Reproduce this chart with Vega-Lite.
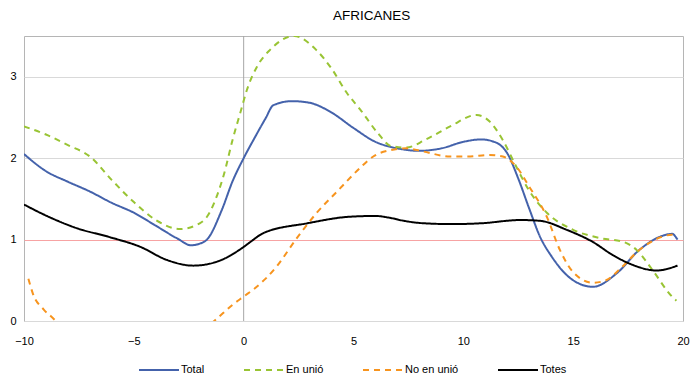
{
  "$schema": "https://vega.github.io/schema/vega-lite/v6.json",
  "width": 659,
  "height": 285,
  "autosize": "none",
  "padding": {"left": 24, "top": 36, "right": 10, "bottom": 58},
  "background": "white",
  "config": {
    "view": {"stroke": "#b5b5b5", "strokeWidth": 1},
    "font": "Liberation Sans",
    "axis": {"labelFont": "Liberation Sans", "labelFontSize": 11, "labelColor": "#000", "ticks": false, "domain": false, "zindex": 0}
  },
  "title": {"text": "AFRICANES", "fontSize": 13.5, "fontWeight": "normal", "font": "Liberation Sans", "color": "#000", "anchor": "middle", "dx": 18, "offset": 2, "baseline": "alphabetic"},
  "datasets": {
    "series": [
      {"s": "Total", "x": -10, "y": 2.05}, {"s": "Total", "x": -9, "y": 1.84}, {"s": "Total", "x": -8, "y": 1.71}, {"s": "Total", "x": -7, "y": 1.59}, {"s": "Total", "x": -6, "y": 1.45}, {"s": "Total", "x": -5, "y": 1.33}, {"s": "Total", "x": -4, "y": 1.17}, {"s": "Total", "x": -3, "y": 1.01}, {"s": "Total", "x": -2.4, "y": 0.93}, {"s": "Total", "x": -2, "y": 0.95}, {"s": "Total", "x": -1.67, "y": 1.0}, {"s": "Total", "x": -1, "y": 1.36}, {"s": "Total", "x": -0.5, "y": 1.72}, {"s": "Total", "x": 0, "y": 2.0}, {"s": "Total", "x": 0.5, "y": 2.25}, {"s": "Total", "x": 1, "y": 2.49}, {"s": "Total", "x": 1.35, "y": 2.65}, {"s": "Total", "x": 2.2, "y": 2.70}, {"s": "Total", "x": 3, "y": 2.68}, {"s": "Total", "x": 4, "y": 2.56}, {"s": "Total", "x": 5, "y": 2.37}, {"s": "Total", "x": 6, "y": 2.2}, {"s": "Total", "x": 7, "y": 2.12}, {"s": "Total", "x": 8, "y": 2.09}, {"s": "Total", "x": 9, "y": 2.12}, {"s": "Total", "x": 10, "y": 2.2}, {"s": "Total", "x": 10.8, "y": 2.23}, {"s": "Total", "x": 11.5, "y": 2.19}, {"s": "Total", "x": 12, "y": 2.06}, {"s": "Total", "x": 12.5, "y": 1.75}, {"s": "Total", "x": 13, "y": 1.38}, {"s": "Total", "x": 13.5, "y": 1.03}, {"s": "Total", "x": 14, "y": 0.8}, {"s": "Total", "x": 15, "y": 0.5}, {"s": "Total", "x": 15.9, "y": 0.42}, {"s": "Total", "x": 17, "y": 0.59}, {"s": "Total", "x": 18, "y": 0.87}, {"s": "Total", "x": 19, "y": 1.04}, {"s": "Total", "x": 19.5, "y": 1.07}, {"s": "Total", "x": 19.75, "y": 1.0},
      {"s": "En unió", "x": -10, "y": 2.39}, {"s": "En unió", "x": -9, "y": 2.29}, {"s": "En unió", "x": -8, "y": 2.16}, {"s": "En unió", "x": -7, "y": 2.02}, {"s": "En unió", "x": -6, "y": 1.73}, {"s": "En unió", "x": -5, "y": 1.46}, {"s": "En unió", "x": -4, "y": 1.24}, {"s": "En unió", "x": -2.9, "y": 1.13}, {"s": "En unió", "x": -2, "y": 1.2}, {"s": "En unió", "x": -1.67, "y": 1.28}, {"s": "En unió", "x": -1.2, "y": 1.55}, {"s": "En unió", "x": -0.9, "y": 1.8}, {"s": "En unió", "x": -0.5, "y": 2.23}, {"s": "En unió", "x": -0.15, "y": 2.56}, {"s": "En unió", "x": 0.15, "y": 2.84}, {"s": "En unió", "x": 0.6, "y": 3.12}, {"s": "En unió", "x": 1.2, "y": 3.33}, {"s": "En unió", "x": 2.3, "y": 3.5}, {"s": "En unió", "x": 3.3, "y": 3.33}, {"s": "En unió", "x": 4, "y": 3.1}, {"s": "En unió", "x": 4.7, "y": 2.8}, {"s": "En unió", "x": 5.3, "y": 2.6}, {"s": "En unió", "x": 6.1, "y": 2.31}, {"s": "En unió", "x": 6.7, "y": 2.15}, {"s": "En unió", "x": 7.4, "y": 2.13}, {"s": "En unió", "x": 8.3, "y": 2.23}, {"s": "En unió", "x": 9.4, "y": 2.39}, {"s": "En unió", "x": 10.6, "y": 2.53}, {"s": "En unió", "x": 11.2, "y": 2.45}, {"s": "En unió", "x": 11.8, "y": 2.22}, {"s": "En unió", "x": 12.4, "y": 1.9}, {"s": "En unió", "x": 13, "y": 1.6}, {"s": "En unió", "x": 13.8, "y": 1.33}, {"s": "En unió", "x": 15, "y": 1.12}, {"s": "En unió", "x": 16.2, "y": 1.02}, {"s": "En unió", "x": 17.3, "y": 0.97}, {"s": "En unió", "x": 17.9, "y": 0.87}, {"s": "En unió", "x": 18.6, "y": 0.63}, {"s": "En unió", "x": 19.5, "y": 0.3}, {"s": "En unió", "x": 19.7, "y": 0.25},
      {"s": "No en unió", "x": -9.8, "y": 0.52}, {"s": "No en unió", "x": -9.6, "y": 0.34}, {"s": "No en unió", "x": -9.1, "y": 0.14}, {"s": "No en unió", "x": -8.7, "y": 0.04}, {"s": "No en unió", "x": -8, "y": -0.15}, {"s": "No en unió", "x": -7, "y": -0.35}, {"s": "No en unió", "x": -5, "y": -0.5}, {"s": "No en unió", "x": -3, "y": -0.35}, {"s": "No en unió", "x": -2, "y": -0.15}, {"s": "No en unió", "x": -1.17, "y": 0.04}, {"s": "No en unió", "x": -0.5, "y": 0.2}, {"s": "No en unió", "x": 0, "y": 0.3}, {"s": "No en unió", "x": 0.5, "y": 0.4}, {"s": "No en unió", "x": 1, "y": 0.52}, {"s": "No en unió", "x": 1.5, "y": 0.67}, {"s": "No en unió", "x": 2.4, "y": 1.01}, {"s": "No en unió", "x": 3.3, "y": 1.32}, {"s": "No en unió", "x": 4.25, "y": 1.59}, {"s": "No en unió", "x": 5.3, "y": 1.88}, {"s": "No en unió", "x": 5.9, "y": 2.02}, {"s": "No en unió", "x": 6.7, "y": 2.1}, {"s": "No en unió", "x": 7.4, "y": 2.12}, {"s": "No en unió", "x": 8.2, "y": 2.08}, {"s": "No en unió", "x": 9.4, "y": 2.02}, {"s": "No en unió", "x": 10.2, "y": 2.02}, {"s": "No en unió", "x": 11.2, "y": 2.04}, {"s": "No en unió", "x": 11.8, "y": 2.02}, {"s": "No en unió", "x": 12.4, "y": 1.9}, {"s": "No en unió", "x": 13, "y": 1.65}, {"s": "No en unió", "x": 13.8, "y": 1.28}, {"s": "No en unió", "x": 14.4, "y": 0.87}, {"s": "No en unió", "x": 15, "y": 0.6}, {"s": "No en unió", "x": 15.9, "y": 0.47}, {"s": "No en unió", "x": 16.5, "y": 0.5}, {"s": "No en unió", "x": 17.1, "y": 0.63}, {"s": "No en unió", "x": 18, "y": 0.87}, {"s": "No en unió", "x": 19, "y": 1.03}, {"s": "No en unió", "x": 19.5, "y": 1.06}, {"s": "No en unió", "x": 19.7, "y": 1.03},
      {"s": "Totes", "x": -10, "y": 1.43}, {"s": "Totes", "x": -8.8, "y": 1.27}, {"s": "Totes", "x": -7.6, "y": 1.14}, {"s": "Totes", "x": -6.1, "y": 1.03}, {"s": "Totes", "x": -4.7, "y": 0.91}, {"s": "Totes", "x": -3.5, "y": 0.75}, {"s": "Totes", "x": -2.3, "y": 0.68}, {"s": "Totes", "x": -1.2, "y": 0.73}, {"s": "Totes", "x": 0, "y": 0.91}, {"s": "Totes", "x": 0.3, "y": 0.97}, {"s": "Totes", "x": 0.9, "y": 1.08}, {"s": "Totes", "x": 2.9, "y": 1.2}, {"s": "Totes", "x": 4.8, "y": 1.28}, {"s": "Totes", "x": 6.0, "y": 1.29}, {"s": "Totes", "x": 6.6, "y": 1.27}, {"s": "Totes", "x": 7.3, "y": 1.23}, {"s": "Totes", "x": 8.2, "y": 1.2}, {"s": "Totes", "x": 9.5, "y": 1.19}, {"s": "Totes", "x": 10.8, "y": 1.2}, {"s": "Totes", "x": 12.6, "y": 1.24}, {"s": "Totes", "x": 13.5, "y": 1.23}, {"s": "Totes", "x": 14.7, "y": 1.12}, {"s": "Totes", "x": 15.9, "y": 0.97}, {"s": "Totes", "x": 16.8, "y": 0.81}, {"s": "Totes", "x": 17.7, "y": 0.69}, {"s": "Totes", "x": 18.8, "y": 0.62}, {"s": "Totes", "x": 19.75, "y": 0.68}
    ],
    "refx": [{"x": 0}]
  },
  "layer": [
    {
      "data": {"name": "series"},
      "mark": {"type": "line", "interpolate": "monotone", "clip": true, "opacity": 0},
      "encoding": {
        "x": {"field": "x", "type": "quantitative", "scale": {"domain": [-10, 20], "nice": false, "zero": false},
              "axis": {"title": null, "values": [-10, -5, 0, 5, 10, 15, 20], "grid": false, "labelPadding": 14, "labelFlush": false}},
        "y": {"field": "y", "type": "quantitative", "scale": {"domain": [0, 3.5], "nice": false, "zero": false},
              "axis": {"title": null, "values": [0, 1, 2, 3], "format": "d", "grid": true, "labelPadding": 8,
                       "gridColor": {"condition": {"test": "datum.value === 1", "value": "#f7a3a3"}, "value": "#d9d9d9"}}},
        "detail": {"field": "s", "type": "nominal"}
      }
    },
    {
      "data": {"name": "refx"},
      "mark": {"type": "rule", "stroke": "#a6a6a6", "strokeWidth": 1},
      "encoding": {"x": {"field": "x", "type": "quantitative"}}
    },
    {
      "data": {"name": "series"},
      "mark": {"type": "line", "interpolate": "monotone", "clip": true},
      "encoding": {
        "x": {"field": "x", "type": "quantitative"},
        "y": {"field": "y", "type": "quantitative"},
        "color": {"field": "s", "type": "nominal",
                  "scale": {"domain": ["Total", "En unió", "No en unió", "Totes"], "range": ["#4462ab", "#99c434", "#f7941e", "#000000"]},
                  "legend": {"title": null, "orient": "none", "legendX": 114, "legendY": 313, "direction": "horizontal", "columns": 4, "columnPadding": 35,
                             "symbolType": "stroke", "symbolSize": 1600, "symbolStrokeWidth": 2, "labelOffset": 1, "labelFontSize": 11, "labelFont": "Liberation Sans", "labelColor": "#000"}},
        "strokeDash": {"field": "s", "type": "nominal",
                       "scale": {"domain": ["Total", "En unió", "No en unió", "Totes"], "range": [[1, 0], [6, 5], [6, 5], [1, 0]]},
                       "legend": {"title": null, "orient": "none", "legendX": 114, "legendY": 313, "direction": "horizontal", "columns": 4, "columnPadding": 35,
                             "symbolType": "stroke", "symbolSize": 1600, "symbolStrokeWidth": 2, "labelOffset": 1, "labelFontSize": 11, "labelFont": "Liberation Sans", "labelColor": "#000"}},
        "strokeWidth": {"field": "s", "type": "nominal",
                        "scale": {"domain": ["Total", "En unió", "No en unió", "Totes"], "range": [2, 2, 2, 2.5]}, "legend": null}
      }
    }
  ]
}
